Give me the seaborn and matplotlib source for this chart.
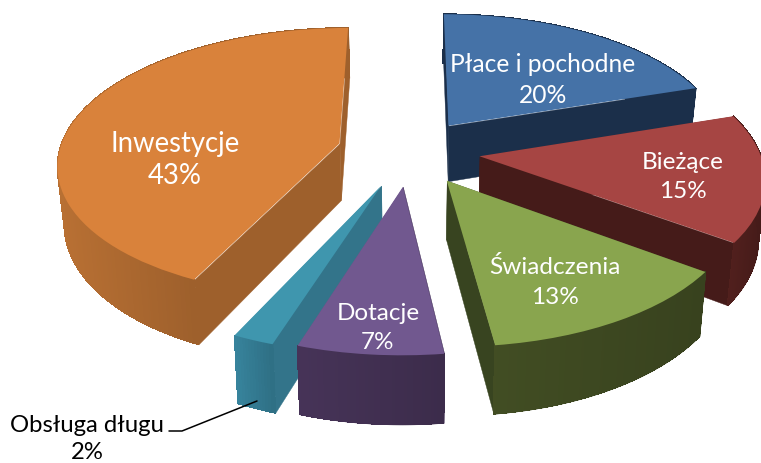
import numpy as np
import matplotlib
matplotlib.use("Agg")
import matplotlib.pyplot as plt
from matplotlib.transforms import Transform
from matplotlib.collections import PolyCollection
from matplotlib.colors import to_rgb
import seaborn as sns

categories = ["Płace i pochodne", "Bieżące", "Świadczenia", "Dotacje", "Obsługa długu", "Inwestycje"]
shares = [20, 15, 13, 7, 2, 43]
top_colors = ["#4572A7", "#A64543", "#89A54E", "#71588F", "#3F96AE", "#D9823B"]
face_colors = ["#1B2F4A", "#451B19", "#384420", "#4A3760", "#33748A", "#9E602C"]
rim_colors = ["#1B2F4A", "#451B19", "#38421E", "#3C2C4B", "#2F7085", "#9E602C"]
label_xy = [(543, 80), (683, 177), (555, 282), (378, 328), (87, 439), (175, 160)]
label_size = [17.7, 17.5, 17.6, 17.5, 17.2, 19.8]
label_gap = [1.45, 1.48, 1.5, 1.48, 1.4, 1.32]
explode = [0.24, 0.25, 0.25, 0.26, 0.27, 0.26]

sns.set_theme(style="white")
plt.rcParams["font.family"] = ["Lato", "DejaVu Sans"]

CX, CY, SX, SY, K, DEPTH, TAPER = 410, 152, 280, 133.7, 0.14, 57, 0.98


class Persp(Transform):
    input_dims = output_dims = 2
    is_separable = False
    has_inverse = False

    def __init__(self, drop=0.0, scale=1.0):
        super().__init__()
        self.drop = drop
        self.scale = scale

    def transform_non_affine(self, values):
        v = np.asarray(values, float)
        w = 1 + K * v[:, 1]
        return np.column_stack([CX + self.scale * SX * v[:, 0] / w,
                                CY + (self.drop - SY * v[:, 1]) / w])


fig = plt.figure(figsize=(7.61, 4.64), dpi=100)
ax = fig.add_axes([0, 0, 1, 1])
top = Persp()
low = Persp(DEPTH, TAPER)

wedges, _ = ax.pie(shares, explode=explode, startangle=90, counterclock=False,
                   colors=sns.color_palette(top_colors), radius=1,
                   wedgeprops={"transform": top + ax.transData, "linewidth": 0})
ax.set_aspect("auto")
ax.set_xlim(0, 761)
ax.set_ylim(464, 0)
ax.axis("off")

order = [5, 0, 1, 4, 3, 2]
for z, i in enumerate(order):
    w = wedges[i]
    c = np.array(w.center)
    t = np.radians(np.linspace(w.theta1, w.theta2, max(int(w.theta2 - w.theta1) * 2, 4)))
    arc = c + w.r * np.column_stack([np.cos(t), np.sin(t)])
    at, ab = top.transform(arc), low.transform(arc)
    ct, cb = top.transform(c[None])[0], low.transform(c[None])[0]
    base = 2 + z * 3
    for a, b in ((at[0], ab[0]), (at[-1], ab[-1])):
        ax.add_collection(PolyCollection([[ct, a, b, cb]], facecolors=[face_colors[i]],
                                         edgecolors=[face_colors[i]], linewidths=0.3, zorder=base))
    # solid smooth underlay, then unsmoothed gradient strips so no seams show
    ax.add_collection(PolyCollection([np.vstack([at, ab[::-1]])], facecolors=[rim_colors[i]],
                                     edgecolors=[rim_colors[i]], linewidths=0.3, zorder=base + 1))
    polys = [[at[j], at[j + 1], ab[j + 1], ab[j]] for j in range(len(at) - 1)]
    xs = at[:-1, 0]
    front = np.sin(t[:-1]) < 0
    if front.any():
        lo, hi = xs[front].min(), xs[front].max()
        shade = 1 + 0.17 * np.clip((hi - xs) / max(hi - lo, 1), 0, 1)
    else:
        shade = np.ones_like(xs)
    cols = [np.clip(np.array(to_rgb(rim_colors[i])) * s, 0, 1) for s in shade]
    ax.add_collection(PolyCollection(polys, facecolors=cols, edgecolors=cols, linewidths=0.5,
                                     antialiaseds=False, zorder=base + 1))
    w.set_zorder(base + 2)

for i, name in enumerate(categories):
    x, y = label_xy[i]
    col = "black" if name == "Obsługa długu" else "white"
    ax.text(x, y, f"{name}\n{shares[i]}%", color=col, fontsize=label_size[i], ha="center",
            va="center", linespacing=label_gap[i], zorder=40)
ax.plot([169, 182, 257], [432, 432, 402], color="black", lw=1.1, zorder=30)

fig.savefig("out.png", dpi=100)
